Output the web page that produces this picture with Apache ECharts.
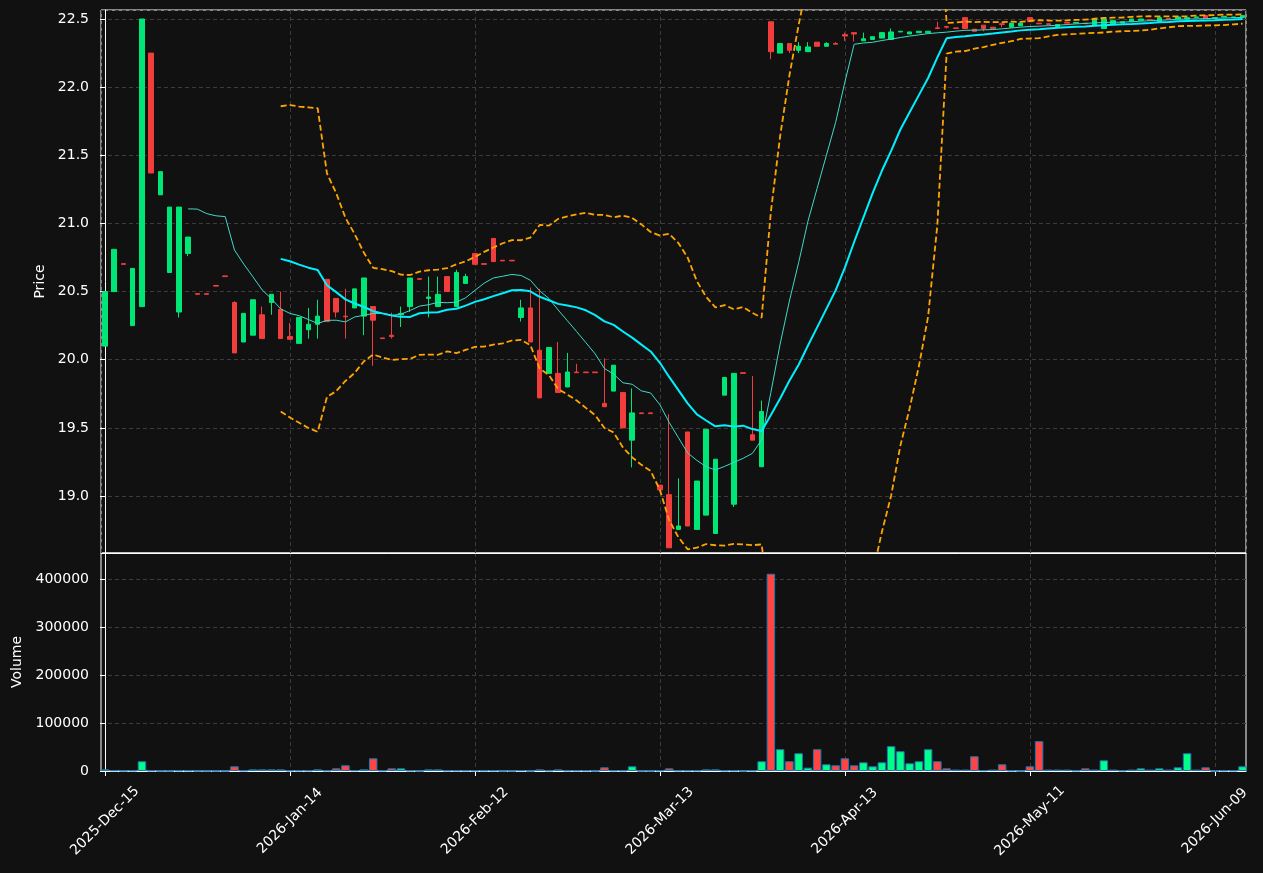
<!DOCTYPE html>
<html>
<head>
<meta charset="utf-8">
<script src="https://cdn.jsdelivr.net/npm/echarts@6/dist/echarts.min.js"></script>
<style>
    html, body { margin: 0; padding: 0; background: #111111; }
    #chart { width: 1263px; height: 873px; }
</style>
</head>
<body>
<div id="chart"></div>
<script>
// x tick labels, one every 20 trading days (index 0, 20, 40 ...)
var dateTicks = ['2025-Dec-15', '2026-Jan-14', '2026-Feb-12', '2026-Mar-13', '2026-Apr-13', '2026-May-11', '2026-Jun-09'];

var opens = [
    20.10, 20.50, 20.705, 20.25, 20.39, 22.25, 21.21, 20.64, 20.35, 20.78,
    20.485, 20.485, 20.545, 20.615, 20.42, 20.13, 20.18, 20.33, 20.42, 20.37,
    20.17, 20.12, 20.22, 20.26, 20.59, 20.45, 20.32, 20.38, 20.32, 20.39,
    20.16, 20.18, 20.33, 20.39, 20.595, 20.45, 20.39, 20.61, 20.39, 20.56,
    20.78, 20.705, 20.89, 20.73, 20.73, 20.31, 20.38, 20.07, 19.90, 19.90,
    19.80, 19.91, 19.91, 19.91, 19.68, 19.77, 19.76, 19.41, 19.61, 19.61,
    19.08, 19.01, 18.755, 19.47, 18.755, 18.86, 18.725, 19.74, 18.94, 19.905,
    19.45, 19.215, 22.48, 22.25, 22.32, 22.27, 22.26, 22.33, 22.30, 22.32,
    22.385, 22.40, 22.34, 22.35, 22.36, 22.35, 22.405, 22.39, 22.40, 22.40,
    22.435, 22.445, 22.435, 22.51, 22.425, 22.455, 22.44, 22.465, 22.44, 22.45,
    22.51, 22.47, 22.465, 22.445, 22.475, 22.47, 22.47, 22.455, 22.43, 22.46,
    22.47, 22.48, 22.49, 22.495, 22.48, 22.505, 22.50, 22.50, 22.51, 22.525,
    22.505, 22.515, 22.51, 22.51
];
var closes = [
    20.50, 20.81, 20.70, 20.67, 22.50, 21.37, 21.38, 21.12, 21.12, 20.90,
    20.48, 20.48, 20.54, 20.61, 20.05, 20.34, 20.44, 20.155, 20.48, 20.155,
    20.15, 20.31, 20.26, 20.32, 20.28, 20.35, 20.315, 20.52, 20.60, 20.29,
    20.155, 20.17, 20.34, 20.60, 20.59, 20.46, 20.48, 20.50, 20.64, 20.61,
    20.70, 20.70, 20.72, 20.725, 20.725, 20.38, 20.13, 19.72, 20.09, 19.76,
    19.91, 19.905, 19.905, 19.905, 19.655, 19.96, 19.50, 19.61, 19.605, 19.605,
    19.045, 18.62, 18.78, 18.78, 19.11, 19.49, 19.27, 19.87, 19.90, 19.90,
    19.41, 19.62, 22.26, 22.32, 22.27, 22.30, 22.295, 22.30, 22.32, 22.315,
    22.375, 22.39, 22.355, 22.37, 22.40, 22.405, 22.41, 22.405, 22.41, 22.41,
    22.43, 22.44, 22.43, 22.43, 22.41, 22.43, 22.43, 22.46, 22.47, 22.47,
    22.48, 22.465, 22.46, 22.46, 22.47, 22.475, 22.465, 22.50, 22.50, 22.49,
    22.48, 22.50, 22.50, 22.49, 22.51, 22.50, 22.515, 22.51, 22.515, 22.505,
    22.51, 22.52, 22.515, 22.525
];
var lows = [
    20.10, 20.50, 20.70, 20.25, 20.39, 21.37, 21.21, 20.64, 20.31, 20.76,
    20.48, 20.48, 20.54, 20.61, 20.05, 20.13, 20.18, 20.155, 20.33, 20.155,
    20.15, 20.12, 20.155, 20.155, 20.28, 20.31, 20.155, 20.38, 20.18, 19.955,
    20.155, 20.155, 20.24, 20.35, 20.59, 20.31, 20.39, 20.50, 20.39, 20.56,
    20.70, 20.70, 20.72, 20.725, 20.725, 20.28, 20.13, 19.72, 19.90, 19.76,
    19.80, 19.905, 19.905, 19.905, 19.655, 19.77, 19.50, 19.21, 19.605, 19.605,
    19.045, 18.62, 18.755, 18.78, 18.755, 18.86, 18.725, 19.74, 18.92, 19.90,
    19.41, 19.215, 22.205, 22.25, 22.25, 22.25, 22.26, 22.30, 22.30, 22.315,
    22.34, 22.335, 22.34, 22.35, 22.36, 22.35, 22.405, 22.39, 22.40, 22.40,
    22.43, 22.43, 22.43, 22.43, 22.41, 22.41, 22.43, 22.44, 22.44, 22.45,
    22.48, 22.465, 22.46, 22.445, 22.47, 22.47, 22.465, 22.455, 22.43, 22.46,
    22.47, 22.48, 22.49, 22.49, 22.48, 22.50, 22.50, 22.50, 22.51, 22.505,
    22.505, 22.515, 22.51, 22.51
];
var highs = [
    20.50, 20.81, 20.705, 20.67, 22.50, 22.25, 21.38, 21.12, 21.12, 20.90,
    20.485, 20.485, 20.545, 20.615, 20.43, 20.34, 20.44, 20.39, 20.48, 20.50,
    20.27, 20.31, 20.38, 20.44, 20.59, 20.45, 20.52, 20.52, 20.60, 20.39,
    20.16, 20.345, 20.39, 20.60, 20.595, 20.61, 20.61, 20.61, 20.66, 20.63,
    20.78, 20.705, 20.89, 20.73, 20.73, 20.44, 20.53, 20.52, 20.09, 20.13,
    20.05, 19.97, 19.91, 19.91, 20.01, 19.96, 19.76, 19.79, 19.61, 19.61,
    19.08, 19.60, 19.13, 19.47, 19.11, 19.49, 19.27, 19.87, 19.90, 19.905,
    19.88, 19.70, 22.48, 22.32, 22.32, 22.33, 22.33, 22.33, 22.33, 22.33,
    22.40, 22.40, 22.40, 22.37, 22.40, 22.43, 22.41, 22.405, 22.41, 22.41,
    22.48, 22.45, 22.435, 22.51, 22.425, 22.455, 22.44, 22.47, 22.47, 22.47,
    22.51, 22.47, 22.465, 22.46, 22.475, 22.475, 22.47, 22.50, 22.50, 22.49,
    22.48, 22.50, 22.50, 22.495, 22.51, 22.505, 22.515, 22.51, 22.515, 22.525,
    22.51, 22.52, 22.515, 22.525
];
var volumes = [
    3500, 1400, 500, 1000, 20300, 1000, 0, 0, 1000, 1000,
    0, 0, 0, 0, 9800, 1000, 3500, 3500, 3500, 3500,
    1000, 1000, 1000, 3500, 1000, 5600, 11900, 1400, 3500, 26500,
    1000, 5600, 5600, 1000, 0, 3500, 3500, 1000, 1000, 1000,
    1000, 1000, 1000, 0, 0, 1400, 0, 3500, 1000, 3500,
    1000, 1000, 1000, 0, 7700, 1000, 1000, 9800, 0, 0,
    1000, 5600, 1000, 1000, 1000, 3500, 3500, 1000, 1000, 0,
    1000, 20300, 411000, 45400, 20300, 37000, 7000, 45400, 14000, 11900,
    26500, 11900, 18100, 9800, 18100, 51700, 41200, 16100, 20300, 45400,
    20300, 5600, 3000, 3000, 30700, 1400, 3000, 14000, 1000, 0,
    9800, 62200, 3000, 3000, 3000, 1000, 5600, 3000, 22300, 3000,
    1000, 3000, 5600, 3000, 5600, 3000, 7700, 37000, 3000, 7700,
    0, 1000, 1000, 9800
];

var upColor = '#00e676';
var downColor = '#f23d3d';
var volUp = '#00ff88';
var volDown = '#ff4444';

// rolling mean / bollinger bands from the closes
function rolling(n, fn) {
    var out = [];
    for (var i = n - 1; i < closes.length; i++) {
        out.push([i, fn(closes.slice(i - n + 1, i + 1))]);
    }
    return out;
}
function mean(a) {
    var s = 0;
    a.forEach(function (v) { s += v; });
    return s / a.length;
}
function std(a) {
    var m = mean(a), s = 0;
    a.forEach(function (v) { s += (v - m) * (v - m); });
    return Math.sqrt(s / (a.length - 1));
}
var ma10 = rolling(10, mean);
var ma20 = rolling(20, mean);
var bbUpper = rolling(20, function (a) { return mean(a) + 2 * std(a); });
var bbLower = rolling(20, function (a) { return mean(a) - 2 * std(a); });

var candleData = opens.map(function (o, i) {
    return [i, o, closes[i], lows[i], highs[i]];
});
var volumeData = volumes.map(function (v, i) {
    return {
        value: [i, v],
        itemStyle: { color: closes[i] >= opens[i] ? volUp : volDown }
    };
});

var textStyle = { color: '#ffffff', fontSize: 14, fontFamily: 'DejaVu Sans' };
var gridLine = { show: true, lineStyle: { color: '#3c3c3c', type: [4, 3], width: 1 } };

var myChart = echarts.init(document.getElementById('chart'));
var option = {
    backgroundColor: '#111111',
    animation: false,
    grid: [
        { left: 101, right: 17, top: 10, height: 543, show: true, borderColor: '#ffffff', borderWidth: 1 },
        { left: 101, right: 17, top: 553, height: 218, show: true, borderColor: '#ffffff', borderWidth: 1 }
    ],
    xAxis: [
        {
            type: 'value', gridIndex: 0, min: -0.43, max: 123.37, splitNumber: 6,
            axisLine: { lineStyle: { color: '#ffffff' } },
            axisTick: { show: false },
            axisLabel: { show: false },
            splitLine: gridLine
        },
        {
            type: 'value', gridIndex: 1, min: -0.43, max: 123.37, splitNumber: 6,
            axisLine: { lineStyle: { color: '#ffffff' } },
            axisTick: { length: 5, lineStyle: { color: '#ffffff' }, customValues: [0, 20, 40, 60, 80, 100, 120] },
            axisLabel: {
                color: '#ffffff', fontSize: 14, fontFamily: 'DejaVu Sans', rotate: 45, margin: 50,
                align: 'center', verticalAlign: 'middle',
                customValues: [0, 20, 40, 60, 80, 100, 120],
                formatter: function (v) { return dateTicks[Math.round(v / 20)] || ''; }
            },
            splitLine: gridLine
        }
    ],
    yAxis: [
        {
            type: 'value', gridIndex: 0, min: 18.582, max: 22.566, splitNumber: 8, scale: true,
            name: 'Price', nameLocation: 'middle', nameGap: 49, nameTextStyle: textStyle,
            axisLine: { show: true, lineStyle: { color: '#ffffff' } },
            axisTick: { show: true, length: 5, lineStyle: { color: '#ffffff' } },
            axisLabel: {
                color: '#ffffff', fontSize: 14, fontFamily: 'DejaVu Sans', margin: 12,
                showMinLabel: false, showMaxLabel: false,
                formatter: function (v) { return v.toFixed(1); }
            },
            splitLine: gridLine
        },
        {
            type: 'value', gridIndex: 1, min: 0, max: 454300, splitNumber: 5,
            name: 'Volume', nameLocation: 'middle', nameGap: 74, nameTextStyle: textStyle,
            axisLine: { show: true, lineStyle: { color: '#ffffff' } },
            axisTick: { show: true, length: 5, lineStyle: { color: '#ffffff' } },
            axisLabel: {
                color: '#ffffff', fontSize: 14, fontFamily: 'DejaVu Sans', margin: 12,
                showMaxLabel: false,
                formatter: function (v) { return String(v); }
            },
            splitLine: gridLine
        }
    ],
    series: [
        {
            name: 'Price', type: 'candlestick', xAxisIndex: 0, yAxisIndex: 0,
            data: candleData, encode: { x: 0, y: [1, 2, 3, 4] },
            barWidth: 5,
            itemStyle: {
                color: upColor, color0: downColor,
                borderColor: upColor, borderColor0: downColor, borderWidth: 1
            }
        },
        {
            name: 'MA10', type: 'line', xAxisIndex: 0, yAxisIndex: 0, data: ma10,
            showSymbol: false, lineStyle: { color: '#3fd9c8', width: 1 }, z: 3
        },
        {
            name: 'MA20', type: 'line', xAxisIndex: 0, yAxisIndex: 0, data: ma20,
            showSymbol: false, lineStyle: { color: '#00f0ff', width: 2 }, z: 3
        },
        {
            name: 'BB upper', type: 'line', xAxisIndex: 0, yAxisIndex: 0, data: bbUpper,
            showSymbol: false, lineStyle: { color: '#ffa500', width: 1.8, type: [6, 3] }, z: 4
        },
        {
            name: 'BB lower', type: 'line', xAxisIndex: 0, yAxisIndex: 0, data: bbLower,
            showSymbol: false, lineStyle: { color: '#ffa500', width: 1.8, type: [6, 3] }, z: 4
        },
        {
            name: 'Volume', type: 'bar', xAxisIndex: 1, yAxisIndex: 1, data: volumeData,
            barWidth: 8.5,
            itemStyle: { borderColor: '#1f77b4', borderWidth: 1 }
        }
    ]
};
myChart.setOption(option);
</script>
</body>
</html>
